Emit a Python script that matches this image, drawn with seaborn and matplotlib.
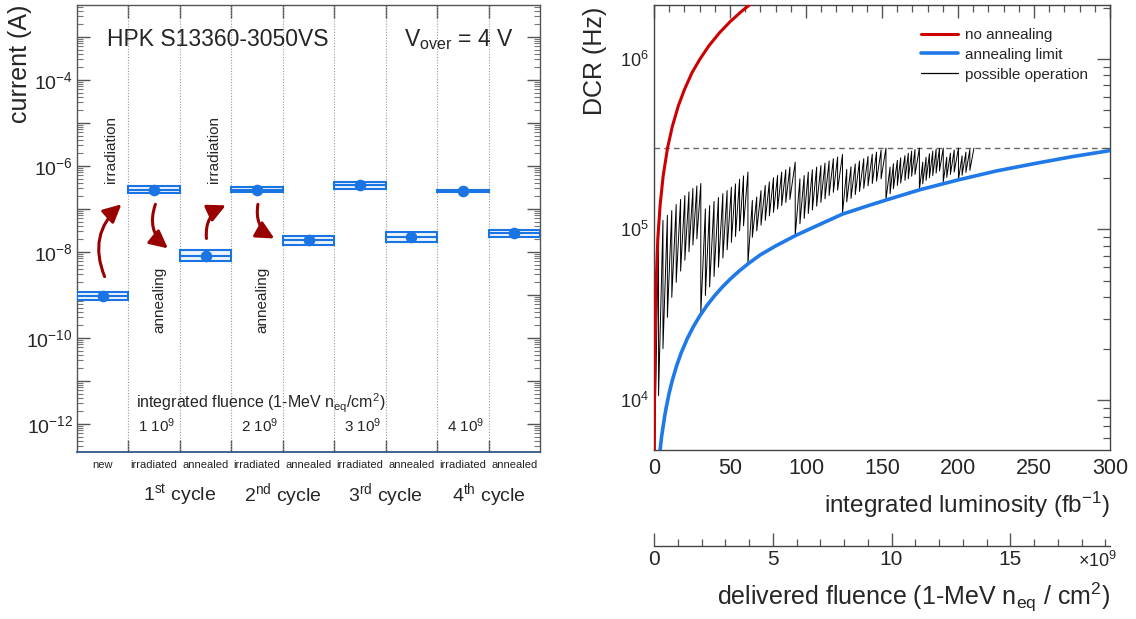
import numpy as np
import matplotlib
matplotlib.use("Agg")
import matplotlib.pyplot as plt
import matplotlib.ticker as mticker
import matplotlib.transforms as mtransforms
import seaborn as sns

# ---------------- left panel data ----------------
stages = ["new", "irradiated", "annealed", "irradiated", "annealed",
          "irradiated", "annealed", "irradiated", "annealed"]
current = [9.4e-10, 2.8e-7, 8.0e-9, 2.8e-7, 1.87e-8, 3.57e-7, 2.22e-8, 2.6e-7, 2.67e-8]
current_lo = [7.6e-10, 2.34e-7, 6.1e-9, 2.45e-7, 1.43e-8, 2.88e-7, 1.7e-8, 2.4e-7, 2.22e-8]
current_hi = [1.19e-9, 3.33e-7, 1.09e-8, 3.2e-7, 2.3e-8, 4.26e-7, 2.9e-8, 2.8e-7, 3.18e-8]
cycle_labels = [r"1$^{st}$ cycle", r"2$^{nd}$ cycle", r"3$^{rd}$ cycle", r"4$^{th}$ cycle"]
fluence_labels = [r"1 10$^{9}$", r"2 10$^{9}$", r"3 10$^{9}$", r"4 10$^{9}$"]

# ---------------- right panel data ----------------
noanneal_lumi = [0.05, 0.3, 0.66, 1.2, 2.5, 4, 6, 8.9, 12, 16, 20, 25, 30, 36, 43, 50, 57, 63]
noanneal_dcr = [1.7e3, 1.0e4, 2.4e4, 4.3e4, 8.8e4, 1.38e5, 2.05e5, 3.0e5, 4.0e5, 5.3e5,
                6.6e5, 8.3e5, 9.9e5, 1.19e6, 1.42e6, 1.65e6, 1.88e6, 2.08e6]
limit_lumi = [3, 3.5, 4, 5, 6, 7, 8, 10, 12, 15, 18, 22, 26, 30, 35, 40, 45, 50, 56, 62,
              70, 80, 93, 110, 124, 140, 153, 175, 200, 225, 250, 275, 300]
limit_dcr = [4.1e3, 4.6e3, 5.1e3, 6.1e3, 7.0e3, 8.0e3, 9.0e3, 1.1e4, 1.3e4, 1.6e4, 1.9e4,
             2.3e4, 2.7e4, 3.1e4, 3.6e4, 4.1e4, 4.6e4, 5.1e4, 5.7e4, 6.3e4, 7.1e4, 8.0e4,
             9.2e4, 1.08e5, 1.23e5, 1.37e5, 1.49e5, 1.71e5, 1.95e5, 2.2e5, 2.43e5,
             2.67e5, 2.9e5]
op_start = (0.0, 3.0e3)
op_lumi = [3.0, 5.9, 8.8, 11.7, 14.6, 17.5, 20.3, 23.0, 25.6, 28.2, 30.8,
           33.8, 36.6, 39.5, 42.4, 45.3, 48.1, 50.9, 53.6, 56.3, 58.9, 61.8,
           64.7, 67.6, 70.4, 73.2, 75.9, 78.6, 81.3, 84.0, 86.7, 89.4, 92.9,
           96.0, 98.8, 101.5, 104.2, 107.0, 109.8, 112.5, 115.2, 118.0, 120.8, 124.0,
           126.8, 129.6, 132.4, 135.2, 138.0, 140.8, 143.6, 146.4, 149.4, 152.6,
           155.3, 157.5, 160.1, 162.3, 165.1, 167.3, 169.5, 171.7, 174.6,
           176.8, 179.0, 181.2, 183.4, 185.6, 187.8, 190.3,
           192.6, 195.0, 197.5, 200.3,
           202.7, 205.2, 207.8, 210.5]
op_peak = [1.0e5, 1.13e5, 1.21e5, 1.29e5, 1.40e5, 1.50e5, 1.58e5, 1.66e5, 1.74e5, 1.80e5, 1.86e5,
           1.32e5, 1.38e5, 1.46e5, 1.54e5, 1.62e5, 1.69e5, 1.77e5, 1.85e5, 1.97e5, 2.06e5, 2.17e5,
           1.48e5, 1.55e5, 1.69e5, 1.81e5, 1.90e5, 2.01e5, 2.07e5, 2.17e5, 2.24e5, 2.32e5, 2.48e5,
           1.98e5, 2.07e5, 2.17e5, 2.24e5, 2.32e5, 2.37e5, 2.45e5, 2.52e5, 2.60e5, 2.66e5, 2.75e5,
           2.25e5, 2.33e5, 2.42e5, 2.52e5, 2.60e5, 2.68e5, 2.76e5, 2.84e5, 2.92e5, 3.0e5,
           2.32e5, 2.43e5, 2.54e5, 2.63e5, 2.71e5, 2.80e5, 2.88e5, 2.94e5, 3.0e5,
           2.48e5, 2.65e5, 2.78e5, 2.88e5, 2.95e5, 2.98e5, 3.0e5,
           2.65e5, 2.80e5, 2.92e5, 3.0e5,
           2.70e5, 2.84e5, 2.94e5, 3.0e5]
op_low = [1.06e4, 2.0e4, 3.05e4, 4.0e4, 4.9e4, 5.7e4, 6.6e4, 7.4e4, 8.1e4, 8.8e4, 3.2e4,
          4.1e4, 4.6e4, 5.3e4, 6.0e4, 6.8e4, 7.6e4, 8.4e4, 9.1e4, 9.8e4, 1.05e5, 6.3e4,
          9.0e4, 9.8e4, 1.06e5, 1.13e5, 1.2e5, 1.26e5, 1.32e5, 1.38e5, 1.44e5, 1.5e5, 9.2e4,
          1.08e5, 1.16e5, 1.24e5, 1.30e5, 1.37e5, 1.44e5, 1.51e5, 1.58e5, 1.65e5, 1.70e5, 1.24e5,
          1.45e5, 1.52e5, 1.60e5, 1.67e5, 1.74e5, 1.80e5, 1.86e5, 1.92e5, 1.98e5, 1.49e5,
          1.62e5, 1.73e5, 1.81e5, 1.87e5, 1.94e5, 1.98e5, 2.05e5, 2.10e5, 1.71e5,
          1.85e5, 1.94e5, 2.01e5, 2.07e5, 2.14e5, 2.20e5, 1.90e5,
          2.02e5, 2.10e5, 2.17e5, 1.96e5,
          2.08e5, 2.16e5, 2.22e5]
dcr_threshold = 3.0e5
fluence_max = 19.2  # x 1e9 at 300 fb^-1

# ---------------- style ----------------
sns.set_theme(style="white")
plt.rcParams.update({
    "font.family": ["Liberation Sans", "DejaVu Sans"],
    "mathtext.fontset": "custom",
    "mathtext.rm": "Liberation Sans",
    "mathtext.it": "Liberation Sans:italic",
    "mathtext.bf": "Liberation Sans:bold",
    "mathtext.sf": "Liberation Sans",
    "mathtext.default": "regular",
    "axes.linewidth": 1.0,
})
BLUE = "#1b74e4"
RED = "#cc0000"
LBLUE = "#2079e8"
ARROW = "#990000"

fig = plt.figure(figsize=(11.36, 6.19), dpi=100)
axL = fig.add_axes([77/1136, 1-452/619, 463/1136, 447/619])
axR = fig.add_axes([654/1136, 1-450/619, 456/1136, 445/619])

# ================= left panel =================
pos = np.arange(len(stages))
lo = np.array(current_lo); hi = np.array(current_hi)
axL.set_yscale("log")
axL.bar(pos, hi - lo, bottom=lo, width=1.0, facecolor="#eef4fc", edgecolor=BLUE,
        linewidth=1.5, zorder=3)
axL.hlines(current, pos - 0.5, pos + 0.5, color=BLUE, lw=1.5, zorder=4)
sns.scatterplot(x=pos, y=current, ax=axL, color=BLUE, s=70, edgecolor=BLUE,
                linewidth=0, zorder=5, legend=False)
axL.set_xlim(-0.5, len(stages) - 0.5)
axL.set_ylim(2.2e-13, 5.5e-3)
bounds = np.arange(0.5, len(stages) - 0.5, 1.0)
for b in bounds:
    axL.axvline(b, color="#999999", lw=0.8, ls=(0, (1, 1.5)), zorder=1)
axL.set_xticks(bounds)
axL.set_xticklabels([])
axL.set_xticks(pos, minor=True)
axL.set_xticklabels(stages, minor=True, fontsize=8)
axL.tick_params(axis="x", which="major", direction="in", length=9, width=1,
                top=True, bottom=True, color="#444444")
axL.tick_params(axis="x", which="minor", length=0, pad=6, labelcolor="#222222")
axL.yaxis.set_major_locator(mticker.LogLocator(base=10, subs=(1.0,), numticks=30))
axL.yaxis.set_minor_locator(mticker.LogLocator(base=10, subs=np.arange(2, 10), numticks=30))
axL.yaxis.set_minor_formatter(mticker.NullFormatter())


def even_dec(v, p):
    e = int(round(np.log10(v)))
    return r"$10^{%d}$" % e if e % 2 == 0 else ""


axL.yaxis.set_major_formatter(mticker.FuncFormatter(even_dec))
axL.tick_params(axis="y", which="major", direction="in", length=9.5, width=1,
                left=True, right=True, labelsize=14, pad=3, color="#555555")
axL.tick_params(axis="y", which="minor", direction="in", length=4.5, width=0.8,
                left=True, right=True, color="#777777")
for s in ["left", "right", "top"]:
    axL.spines[s].set_color("#555555")
axL.spines["bottom"].set_color("#33578a")
axL.spines["bottom"].set_linewidth(1.3)
axL.set_ylabel("current (A)", fontsize=18, loc="top")
axL.yaxis.set_label_coords(-0.098, 1.0)

axL.text(0.065, 0.922, "HPK S13360-3050VS", transform=axL.transAxes, fontsize=16.5,
         va="center", ha="left")
axL.text(0.706, 0.922, r"V$_{over}$ = 4 V", transform=axL.transAxes, fontsize=16.5,
         va="center", ha="left")
for xf, yf, t in [(0.0734, 0.676, "irradiation"), (0.296, 0.676, "irradiation"),
                  (0.177, 0.340, "annealing"), (0.4006, 0.340, "annealing")]:
    axL.text(xf, yf, t, transform=axL.transAxes, rotation=90, fontsize=11,
             ha="center", va="center")

arrows = [((0.037, 2.64e-9), (0.363, 1.27e-7), -0.35),
          ((1.024, 1.27e-7), (1.267, 1.2e-8), 0.35),
          ((2.016, 2.04e-8), (2.391, 1.2e-7), -0.35),
          ((3.017, 1.27e-7), (3.336, 2.04e-8), 0.35)]
for tail, head, rad in arrows:
    axL.annotate("", xy=head, xytext=tail,
                 arrowprops=dict(arrowstyle="-|>,head_length=0.9,head_width=0.45",
                                 connectionstyle="arc3,rad=%g" % rad,
                                 color=ARROW, lw=2.2, shrinkA=0, shrinkB=0), zorder=6)

axL.text(3.08, 3.0e-12, r"integrated fluence (1-MeV n$_{eq}$/cm$^{2}$)", fontsize=11.5,
         ha="center", va="center")
for i, t in enumerate(fluence_labels):
    axL.text(1 + 2 * i + 0.05, 9.2e-13, t, fontsize=11, ha="center", va="center")
trL = mtransforms.blended_transform_factory(axL.transData, axL.transAxes)
for i, t in enumerate(cycle_labels):
    axL.text(1.5 + 2 * i, -0.096, t, transform=trL, fontsize=14, ha="center",
             va="center")

# ================= right panel =================
axR.set_yscale("log")
op_x = [op_start[0]]
op_y = [op_start[1]]
for i, (L, p) in enumerate(zip(op_lumi, op_peak)):
    op_x.append(L); op_y.append(p)
    if i < len(op_low):
        op_x.append(L); op_y.append(op_low[i])

axR.axhline(dcr_threshold, color="#666666", lw=1.0, ls=(0, (4, 3)), zorder=1)
sns.lineplot(x=noanneal_lumi, y=noanneal_dcr, ax=axR, color=RED, lw=2.2,
             label="no annealing", sort=False, estimator=None, zorder=4)
sns.lineplot(x=limit_lumi, y=limit_dcr, ax=axR, color=LBLUE, lw=2.6,
             label="annealing limit", sort=False, estimator=None, zorder=4)
sns.lineplot(x=op_x, y=op_y, ax=axR, color="black", lw=0.7,
             label="possible operation", sort=False, estimator=None, zorder=3)
axR.set_xlim(0, 300)
axR.set_ylim(5.09e3, 2.07e6)
axR.set_xlabel(""); axR.set_ylabel("")

axR.xaxis.set_major_locator(mticker.MultipleLocator(50))
axR.xaxis.set_minor_locator(mticker.MultipleLocator(10))
axR.yaxis.set_major_locator(mticker.LogLocator(base=10, subs=(1.0,), numticks=20))
axR.yaxis.set_minor_locator(mticker.LogLocator(base=10, subs=np.arange(2, 10), numticks=20))
axR.yaxis.set_minor_formatter(mticker.NullFormatter())
axR.yaxis.set_major_formatter(mticker.FuncFormatter(
    lambda v, p: r"$10^{%d}$" % int(round(np.log10(v)))))
axR.tick_params(axis="both", which="major", direction="in", length=9.5, width=1,
                top=True, right=True, color="#555555", labelsize=15.5)
axR.tick_params(axis="both", which="minor", direction="in", length=5, width=0.9,
                top=True, right=True, color="#555555")
axR.tick_params(axis="x", which="major", pad=6)
axR.tick_params(axis="y", which="major", labelsize=13)
for s in axR.spines.values():
    s.set_color("#444444")
axR.set_ylabel("DCR (Hz)", fontsize=18, loc="top")
axR.yaxis.set_label_coords(-0.103, 0.995)
axR.text(1.0, -0.124, r"integrated luminosity (fb$^{-1}$)", transform=axR.transAxes,
         fontsize=17.5, ha="right", va="center")

leg = axR.legend(loc="upper left", bbox_to_anchor=(0.572, 0.962), frameon=False,
                 fontsize=11, handlelength=2.4, labelspacing=0.38,
                 handletextpad=0.5, borderaxespad=0)
for h in leg.get_lines():
    h.set_linewidth({"no annealing": 2.2, "annealing limit": 2.6}.get(h.get_label(), 0.9))

k = fluence_max / 300.0
sec = axR.secondary_xaxis(-0.2157, functions=(lambda L: L * k, lambda f: f / k))
sec.set_xticks([0, 5, 10, 15])
sec.set_xticks(np.arange(1, 20), minor=True)
sec.tick_params(axis="x", which="major", direction="in", length=9.5, width=1,
                labelsize=15, pad=3, color="#555555")
sec.tick_params(axis="x", which="minor", direction="in", length=5, width=0.9,
                color="#555555")
sec.spines["bottom"].set_color("#444444")
axR.text(1.016, -0.250, r"$\times$10$^{9}$", transform=axR.transAxes, fontsize=13,
         ha="right", va="center")
axR.text(1.0, -0.332, r"delivered fluence (1-MeV n$_{eq}$ / cm$^{2}$)",
         transform=axR.transAxes, fontsize=18, ha="right", va="center")

fig.savefig("out.png", dpi=100)
